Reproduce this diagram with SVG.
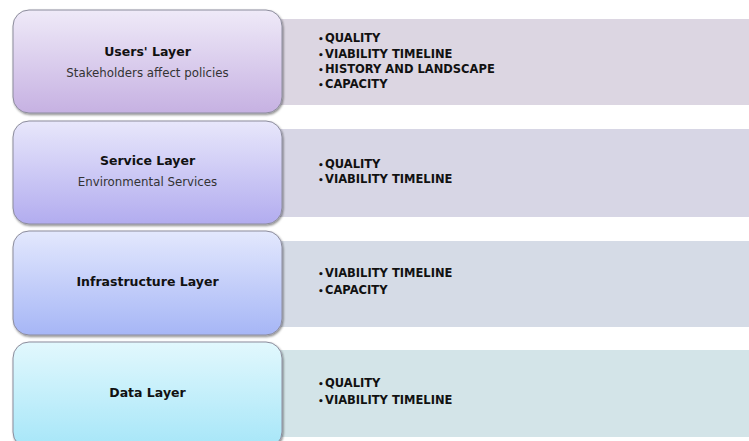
<svg xmlns="http://www.w3.org/2000/svg" width="749" height="441" viewBox="0 0 749 441">
<style>
.box{stroke:#8c8c9c;stroke-width:1}
.t{font-family:"DejaVu Sans",Verdana,sans-serif;font-size:12.5px;font-weight:bold;fill:#111;text-anchor:middle}
.s{font-family:"DejaVu Sans",Verdana,sans-serif;font-size:11.8px;fill:#333;text-anchor:middle}
.b{font-family:"DejaVu Sans",Verdana,sans-serif;font-size:11.5px;font-weight:bold;fill:#111}
.d{font-family:"DejaVu Sans",sans-serif;font-size:9px;font-weight:bold;fill:#111}
</style>
<defs>
<linearGradient id="g1" x1="0" y1="0" x2="0" y2="1"><stop offset="0" stop-color="#efeaf8"/><stop offset="1" stop-color="#c6b1e2"/></linearGradient>
<linearGradient id="g2" x1="0" y1="0" x2="0" y2="1"><stop offset="0" stop-color="#e8e7fb"/><stop offset="1" stop-color="#b2acef"/></linearGradient>
<linearGradient id="g3" x1="0" y1="0" x2="0" y2="1"><stop offset="0" stop-color="#e3e8fd"/><stop offset="1" stop-color="#a6b6f6"/></linearGradient>
<linearGradient id="g4" x1="0" y1="0" x2="0" y2="1"><stop offset="0" stop-color="#e2f8fd"/><stop offset="1" stop-color="#a6e6f8"/></linearGradient>
<filter id="sh" x="-5%" y="-5%" width="110%" height="115%"><feDropShadow dx="1" dy="1.5" stdDeviation="0.8" flood-color="#000" flood-opacity="0.45"/></filter>
</defs>
<rect width="749" height="441" fill="#fff"/>
<g id="panels">
<rect x="270" y="19" width="479" height="86" fill="#dcd6e2"/>
<rect x="270" y="129" width="479" height="88" fill="#d7d6e5"/>
<rect x="270" y="241" width="479" height="86" fill="#d5dbe6"/>
<rect x="270" y="350" width="479" height="87" fill="#d3e4e8"/>
</g>
<g id="users">
<rect class="box" x="13" y="10" width="269" height="103" rx="16" fill="url(#g1)" filter="url(#sh)"/>
<text class="t" x="147.5" y="56">Users' Layer</text>
<text class="s" x="147.5" y="77">Stakeholders affect policies</text>
</g>
<g id="service">
<rect class="box" x="13" y="121" width="269" height="103" rx="16" fill="url(#g2)" filter="url(#sh)"/>
<text class="t" x="147.5" y="165">Service Layer</text>
<text class="s" x="147.5" y="186">Environmental Services</text>
</g>
<g id="infrastructure">
<rect class="box" x="13" y="231" width="269" height="104" rx="16" fill="url(#g3)" filter="url(#sh)"/>
<text class="t" x="147.5" y="286">Infrastructure Layer</text>
</g>
<g id="data">
<rect class="box" x="13" y="342" width="269" height="106" rx="16" fill="url(#g4)" filter="url(#sh)"/>
<text class="t" x="147.5" y="397">Data Layer</text>
</g>
<g id="list-users">
<text class="d" x="318" y="42">•</text><text class="b" x="325" y="42">QUALITY</text>
<text class="d" x="318" y="57.5">•</text><text class="b" x="325" y="57.5">VIABILITY TIMELINE</text>
<text class="d" x="318" y="73">•</text><text class="b" x="325" y="73">HISTORY AND LANDSCAPE</text>
<text class="d" x="318" y="88">•</text><text class="b" x="325" y="88">CAPACITY</text>
</g>
<g id="list-service">
<text class="d" x="318" y="168">•</text><text class="b" x="325" y="168">QUALITY</text>
<text class="d" x="318" y="183">•</text><text class="b" x="325" y="183">VIABILITY TIMELINE</text>
</g>
<g id="list-infrastructure">
<text class="d" x="318" y="277">•</text><text class="b" x="325" y="277">VIABILITY TIMELINE</text>
<text class="d" x="318" y="294">•</text><text class="b" x="325" y="294">CAPACITY</text>
</g>
<g id="list-data">
<text class="d" x="318" y="387">•</text><text class="b" x="325" y="387">QUALITY</text>
<text class="d" x="318" y="404">•</text><text class="b" x="325" y="404">VIABILITY TIMELINE</text>
</g>
<g id="connectors"/>
</svg>
